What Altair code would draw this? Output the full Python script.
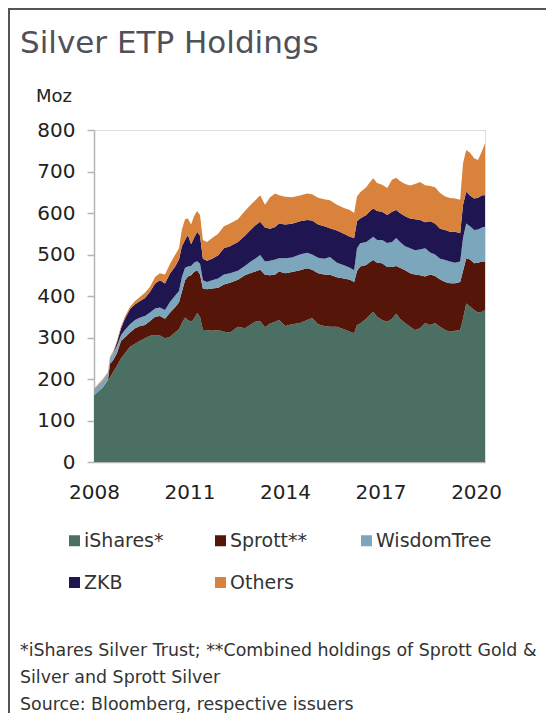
import altair as alt
import pandas as pd

# ---- data (Moz) ----
years = [2008.00, 2008.13, 2008.28, 2008.44, 2008.50, 2008.60, 2008.72, 2008.85, 2008.97, 2009.13,
         2009.29, 2009.45, 2009.60, 2009.76, 2009.92, 2010.07, 2010.23, 2010.39, 2010.54, 2010.67,
         2010.76, 2010.86, 2010.95, 2011.05, 2011.14, 2011.24, 2011.33, 2011.42, 2011.55, 2011.71,
         2011.90, 2012.08, 2012.27, 2012.52, 2012.74, 2012.90, 2013.06, 2013.22, 2013.37, 2013.53,
         2013.69, 2013.81, 2014.00, 2014.22, 2014.47, 2014.69, 2014.85, 2015.04, 2015.23, 2015.41,
         2015.63, 2015.85, 2016.04, 2016.17, 2016.26, 2016.36, 2016.55, 2016.67, 2016.77, 2016.89,
         2017.05, 2017.21, 2017.36, 2017.49, 2017.61, 2017.77, 2017.93, 2018.08, 2018.24, 2018.40,
         2018.56, 2018.71, 2018.87, 2019.03, 2019.18, 2019.34, 2019.50, 2019.59, 2019.69, 2019.81,
         2019.94, 2020.06, 2020.19, 2020.28]

ishares = [160, 170, 180, 198, 203, 217, 232, 250, 262, 278,
           285, 292, 298, 304, 306, 305, 298, 302, 312, 320,
           335, 348, 342, 338, 345, 359, 350, 318, 318, 316,
           318, 314, 312, 326, 322, 330, 338, 340, 325, 334,
           338, 342, 328, 332, 335, 342, 347, 332, 328, 326,
           326, 320, 314, 310, 330, 334, 345, 355, 362, 350,
           342, 338, 345, 358, 345, 335, 326, 318, 322, 335,
           330, 335, 326, 318, 314, 316, 318, 345, 382, 375,
           366, 360, 362, 366]

sprott = [0, 0, 0, 0, 33, 28, 30, 42, 38, 34,
          37, 36, 32, 36, 44, 47, 47, 58, 60, 65,
          75, 90, 105, 112, 113, 103, 102, 100, 98, 102,
          102, 114, 120, 113, 128, 125, 121, 123, 126, 116,
          114, 117, 127, 126, 127, 125, 116, 123, 124, 125,
          119, 122, 125, 124, 130, 137, 130, 127, 125, 130,
          137, 132, 125, 114, 123, 127, 129, 134, 128, 112,
          122, 113, 114, 116, 117, 115, 116, 115, 109, 113,
          113, 120, 121, 117]

wisdomtree = [14, 16, 17, 16, 14, 17, 18, 14, 18, 20,
              20, 20, 22, 20, 20, 20, 21, 26, 28, 27,
              35, 30, 24, 22, 22, 22, 26, 20, 18, 20,
              22, 24, 23, 22, 22, 27, 31, 36, 32, 35,
              36, 32, 36, 35, 38, 37, 37, 37, 38, 43,
              35, 32, 29, 28, 55, 56, 55, 55, 56, 55,
              56, 58, 60, 68, 62, 58, 60, 58, 62, 68,
              53, 52, 50, 53, 52, 49, 49, 80, 84, 80,
              80, 80, 82, 84]

zkb = [0, 0, 0, 0, 0, 0, 8, 16, 27, 36,
       38, 40, 43, 50, 60, 66, 64, 69, 70, 76,
       75, 67, 76, 53, 60, 71, 67, 52, 51, 52,
       56, 63, 65, 69, 73, 76, 80, 80, 82, 77,
       78, 84, 81, 81, 80, 79, 82, 80, 78, 69,
       78, 76, 75, 78, 65, 60, 65, 68, 68, 70,
       68, 67, 73, 67, 70, 72, 72, 75, 71, 63,
       75, 75, 72, 72, 72, 75, 68, 80, 76, 74,
       76, 77, 78, 76]

others = [2, 2, 3, 3, 3, 4, 4, 5, 5, 6,
          8, 10, 13, 12, 16, 17, 22, 23, 28, 27,
          40, 50, 40, 47, 52, 50, 50, 45, 45, 50,
          52, 53, 55, 55, 60, 60, 60, 64, 55, 76,
          81, 68, 67, 64, 62, 64, 63, 65, 65, 68,
          62, 62, 64, 60, 60, 63, 67, 70, 73, 67,
          65, 65, 77, 78, 77, 78, 79, 85, 92, 89,
          85, 87, 86, 81, 81, 80, 81, 100, 101, 103,
          97, 91, 107, 125]

series_names = ["iShares*", "Sprott**", "WisdomTree", "ZKB", "Others"]
series_colors = ["#4b7063", "#561509", "#7ba6bc", "#1f1550", "#d8823b"]
x_ticks = [2008, 2011, 2014, 2017, 2020]
y_ticks = [0, 100, 200, 300, 400, 500, 600, 700, 800]

title_text = "Silver ETP Holdings"
unit_text = "Moz"
note_lines = ["*iShares Silver Trust; **Combined holdings of Sprott Gold &",
              "Silver and Sprott Silver",
              "Source: Bloomberg, respective issuers"]

rows = []
for k, (name, vals) in enumerate(zip(series_names, [ishares, sprott, wisdomtree, zkb, others])):
    for yr, v in zip(years, vals):
        rows.append({"year": yr, "series": name, "value": v, "rank": k})
df = pd.DataFrame(rows)

FONT = "DejaVu Sans"
AXIS_GRAY = "#b5b5b5"

area = alt.Chart(df).mark_area(interpolate="linear").encode(
    x=alt.X("year:Q",
            scale=alt.Scale(domain=[2008, 2020.28], nice=False, zero=False),
            axis=alt.Axis(values=x_ticks, format="d", title=None, ticks=False, tickSize=0,
                          grid=False, labelPadding=20, labelFontSize=20, labelColor="#222",
                          labelFlush=False, labelOverlap=False,
                          domainColor=AXIS_GRAY, domainWidth=1.5, labelFont=FONT)),
    y=alt.Y("value:Q", stack="zero",
            scale=alt.Scale(domain=[0, 800], nice=False),
            axis=alt.Axis(values=y_ticks, title=None, grid=False, tickSize=7,
                          tickColor=AXIS_GRAY, tickWidth=1.5, domainColor=AXIS_GRAY,
                          domainWidth=1.5, labelPadding=12, labelFontSize=20,
                          labelColor="#222", labelFont=FONT, labelFlush=False)),
    color=alt.Color("series:N",
                    scale=alt.Scale(domain=series_names, range=series_colors),
                    legend=alt.Legend(title=None, orient="none", legendX=-29, legendY=401,
                                      direction="horizontal",
                                      columns=3, symbolType="square", symbolSize=121,
                                      symbolStrokeWidth=0, labelFontSize=19, labelFont=FONT,
                                      labelColor="#333", columnPadding=11, rowPadding=22,
                                      gridAlign="all", labelOffset=0, padding=0,
                                      labelLimit=250)),
    order=alt.Order("rank:Q"),
)

one = pd.DataFrame({"a": [0]})

title = alt.Chart(pd.DataFrame({"t": [title_text]})).mark_text(
    align="left", baseline="alphabetic", fontSize=31, fontWeight="normal", font=FONT, color="#505058"
).encode(text="t:N", x=alt.value(-74), y=alt.value(-77))

unit = alt.Chart(pd.DataFrame({"t": [unit_text]})).mark_text(
    align="left", baseline="middle", fontSize=18, font=FONT, color="#222"
).encode(text="t:N", x=alt.value(-58), y=alt.value(-33))

notes = []
for line, yy in zip(note_lines, [521, 548, 575]):
    notes.append(alt.Chart(pd.DataFrame({"t": [line]})).mark_text(
        align="left", baseline="middle", fontSize=17.4, font=FONT, color="#333"
    ).encode(text="t:N", x=alt.value(-74), y=alt.value(yy)))

top_border = alt.Chart(one).mark_rule(color="#555", strokeWidth=2).encode(
    x=alt.value(-86), x2=alt.value(452), y=alt.value(-121))
left_border = alt.Chart(one).mark_rule(color="#555", strokeWidth=2).encode(
    x=alt.value(-85), y=alt.value(-122), y2=alt.value(583))

chart = alt.layer(area, title, unit, *notes, top_border, left_border).properties(
    width=391, height=332,
    autosize=alt.AutoSizeParams(type="none"),
    padding={"left": 86, "top": 122, "right": 61, "bottom": 251},
).configure_view(stroke=None).configure(font=FONT)

chart.save("out.html", embed_options={"renderer": "svg", "actions": False})
